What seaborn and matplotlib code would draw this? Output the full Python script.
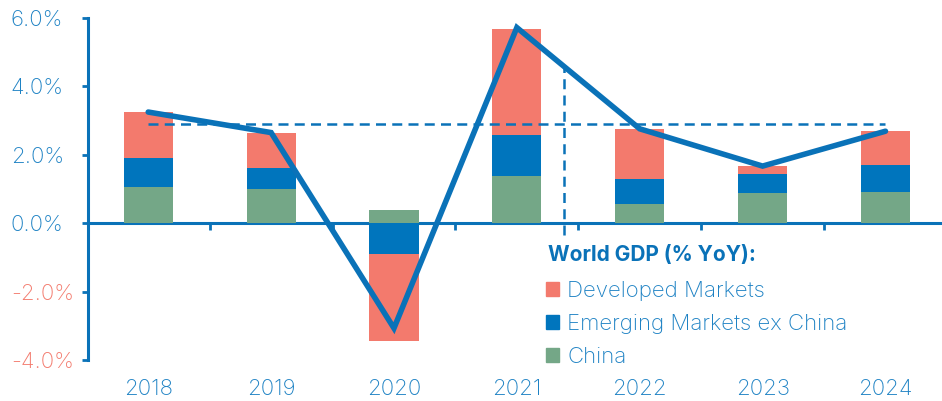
import numpy as np
import pandas as pd
import seaborn as sns
import matplotlib.pyplot as plt
from matplotlib.patches import Patch

years = ["2018", "2019", "2020", "2021", "2022", "2023", "2024"]
china = [1.06, 0.99, 0.38, 1.38, 0.55, 0.87, 0.90]
em_ex_china = [0.84, 0.62, -0.89, 1.19, 0.73, 0.58, 0.79]
developed = [1.35, 1.04, -2.55, 3.11, 1.46, 0.21, 1.00]
world = [3.25, 2.65, -3.07, 5.72, 2.76, 1.67, 2.69]
world_avg = 2.9
forecast_split = 3.38  # between 2021 and 2022
yticks = [-4, -2, 0, 2, 4, 6]

c_dm = "#F37A6D"
c_em = "#0075BD"
c_cn = "#74A787"
c_line = "#0A72B8"
c_text = "#1E82C4"
c_neg = "#F37A6D"

sns.set_style("white")
plt.rcParams["font.family"] = ["Inter", "DejaVu Sans"]
plt.rcParams["font.weight"] = "light"
fs = 16

fig = plt.figure(figsize=(9.42, 4.01), dpi=100)
ax = fig.add_axes([88 / 942, 1 - 360 / 401, 1 - 88 / 942, (360 - 18) / 401])

# stacked segments: positives stack up, negatives stack down
series = [("China", china, c_cn), ("Emerging Markets ex China", em_ex_china, c_em),
          ("Developed Markets", developed, c_dm)]
pos_base = np.zeros(len(years))
neg_base = np.zeros(len(years))
for name, vals, col in series:
    vals = np.array(vals)
    bottom = np.where(vals >= 0, pos_base, neg_base)
    df = pd.DataFrame({"year": years, "val": vals})
    sns.barplot(data=df, x="year", y="val", color=col, width=0.4, bottom=bottom,
                saturation=1, ax=ax, linewidth=0)
    pos_base = pos_base + np.clip(vals, 0, None)
    neg_base = neg_base + np.clip(vals, None, 0)

pos = np.arange(len(years))
ax.hlines(world_avg, pos[0], pos[-1], color=c_line, lw=1.8, ls=(0, (4, 2.5)), zorder=3)
split_top = np.interp(forecast_split, pos, world)
ax.vlines(forecast_split, -0.35, split_top, color=c_line, lw=1.8, ls=(0, (4, 2.5)), zorder=3)
sns.lineplot(x=pos, y=world, color=c_line, lw=4, ax=ax, zorder=4, solid_joinstyle="miter")

ax.set_xlim(-0.49, 6.46)
ax.set_ylim(-4, 6)
ax.set_yticks(yticks)
ax.set_yticklabels([f"{v:.1f}%" for v in yticks])
ax.set_xlabel("")
ax.set_ylabel("")

for s in ["top", "right", "bottom"]:
    ax.spines[s].set_visible(False)
ax.spines["left"].set_color(c_line)
ax.spines["left"].set_linewidth(2.2)
ax.tick_params(axis="y", direction="out", length=4.5, width=2, color=c_line,
               labelsize=fs, pad=51, left=True)
for lab, v in zip(ax.get_yticklabels(), yticks):
    lab.set_ha("left")
    lab.set_color(c_neg if v < 0 else c_text)
ax.tick_params(axis="x", length=0, labelsize=fs, labelcolor=c_text, pad=14)

# zero line with ticks between categories
zax = ax.secondary_xaxis(0.4)
zax.set_xticks(pos[:-1] + 0.5)
zax.set_xticklabels([])
zax.spines["bottom"].set_color(c_line)
zax.spines["bottom"].set_linewidth(2.2)
zax.tick_params(axis="x", direction="out", length=5, width=2, color=c_line)

# legend: title as separate text so the gap matches
fig.text(548 / 942, 1 - 255 / 401, "World GDP (% YoY):", color=c_line,
         fontsize=15, fontweight="bold", ha="left", va="center")
handles = [Patch(color=c_dm, label="Developed Markets"),
           Patch(color=c_em, label="Emerging Markets ex China"),
           Patch(color=c_cn, label="China")]
leg = fig.legend(handles=handles, loc="upper left",
                 bbox_to_anchor=(546 / 942, 1 - 281 / 401), frameon=False,
                 fontsize=fs, handlelength=0.6, handleheight=0.6,
                 handletextpad=0.35, labelspacing=0.58, borderpad=0, borderaxespad=0)
for t in leg.get_texts():
    t.set_color(c_text)

fig.savefig("out.png", dpi=100)
